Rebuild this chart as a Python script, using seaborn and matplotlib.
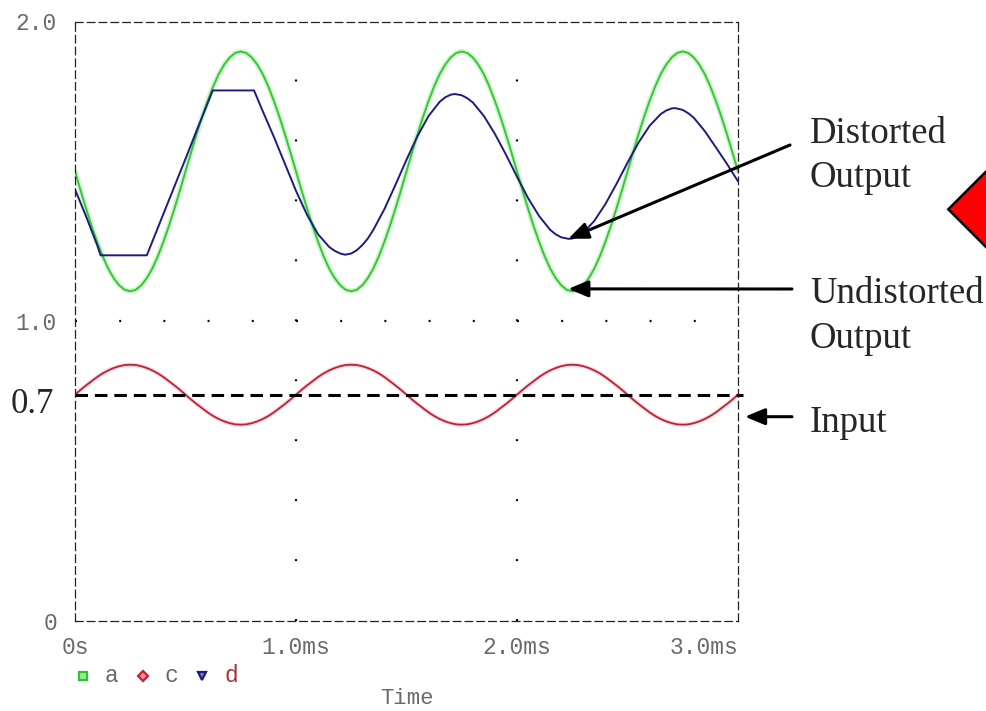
import numpy as np
import pandas as pd
import seaborn as sns
import matplotlib.pyplot as plt
import matplotlib.patheffects as pe
from matplotlib.lines import Line2D
from matplotlib.patches import Polygon

# sample times (ms) for traces a and c: 0 .. 3 ms every 0.025 ms
t = np.linspace(0, 3, 121)

# a : undistorted output (green), read per 0.025 ms
a_period = [1.500, 1.437, 1.376, 1.318, 1.265, 1.217, 1.176, 1.144, 1.120, 1.105,
            1.100, 1.105, 1.120, 1.144, 1.176, 1.217, 1.265, 1.318, 1.376, 1.437,
            1.500, 1.563, 1.624, 1.682, 1.735, 1.783, 1.824, 1.856, 1.880, 1.895,
            1.900, 1.895, 1.880, 1.856, 1.824, 1.783, 1.735, 1.682, 1.624, 1.563]
a_vals = a_period * 3 + [1.500]

# c : input (red)
c_period = [0.755, 0.771, 0.786, 0.800, 0.814, 0.826, 0.836, 0.844, 0.850, 0.854,
            0.855, 0.854, 0.850, 0.844, 0.836, 0.826, 0.814, 0.800, 0.786, 0.771,
            0.755, 0.739, 0.724, 0.710, 0.696, 0.684, 0.674, 0.666, 0.660, 0.656,
            0.655, 0.656, 0.660, 0.666, 0.674, 0.684, 0.696, 0.710, 0.724, 0.739]
c_vals = c_period * 3 + [0.755]

# d : distorted output (blue), own time points so the clipped corners stay sharp
d_t = [0.000, 0.050, 0.100, 0.116, 0.325, 0.350, 0.400, 0.450, 0.500, 0.550, 0.600, 0.623,
       0.810, 0.850, 0.900, 0.950, 1.000, 1.050, 1.100, 1.150, 1.175, 1.200, 1.222,
       1.250, 1.275, 1.300, 1.325, 1.350, 1.400, 1.450, 1.500, 1.550, 1.600, 1.650,
       1.675, 1.700, 1.720, 1.750, 1.775, 1.800, 1.850, 1.900, 1.950, 2.000, 2.050,
       2.100, 2.150, 2.175, 2.200, 2.233, 2.250, 2.275, 2.300, 2.350, 2.400, 2.450,
       2.500, 2.550, 2.600, 2.650, 2.675, 2.700, 2.716, 2.750, 2.775, 2.800, 2.850,
       2.900, 2.950, 3.000]
d_vals = [1.440, 1.350, 1.255, 1.220, 1.220, 1.266, 1.358, 1.450, 1.542, 1.635, 1.727, 1.770,
          1.770, 1.700, 1.615, 1.525, 1.435, 1.355, 1.290, 1.248, 1.235, 1.226, 1.222,
          1.226, 1.237, 1.254, 1.276, 1.305, 1.374, 1.455, 1.539, 1.618, 1.685, 1.732,
          1.747, 1.756, 1.758, 1.754, 1.744, 1.730, 1.685, 1.625, 1.556, 1.482, 1.411,
          1.351, 1.305, 1.290, 1.280, 1.275, 1.276, 1.283, 1.295, 1.335, 1.391, 1.458,
          1.529, 1.596, 1.652, 1.691, 1.703, 1.710, 1.711, 1.705, 1.694, 1.679, 1.634,
          1.580, 1.525, 1.467]

x_ticks = [0, 1, 2, 3]
x_ticklabels = ['0s', '1.0ms', '2.0ms', '3.0ms']
y_ticks = [0, 1, 2]
y_ticklabels = ['0', '1.0', '2.0']
input_level = 0.755

sns.set_style('white')
plt.rcParams['lines.scale_dashes'] = False
MONO = 'Liberation Mono'
SERIF = 'Liberation Serif'

W, H, DPI = 987, 711, 100
fig = plt.figure(figsize=(W / DPI, H / DPI), dpi=DPI)
ax = fig.add_axes([75 / W, 1 - 621 / H, 663 / W, 599.5 / H])


def fx(px):
    return px / W


def fy(py):
    return 1 - py / H


df_a = pd.DataFrame({'t': t, 'v': a_vals})
df_c = pd.DataFrame({'t': t, 'v': c_vals})
df_d = pd.DataFrame({'t': d_t, 'v': d_vals})

sns.lineplot(data=df_a, x='t', y='v', color='#34c834', lw=1.4, ax=ax,
             estimator=None, sort=False,
             path_effects=[pe.Stroke(linewidth=3.8, foreground='#d2f4d2'), pe.Normal()])
sns.lineplot(data=df_c, x='t', y='v', color='#c02038', lw=1.3, ax=ax,
             estimator=None, sort=False,
             path_effects=[pe.Stroke(linewidth=3, foreground='#f6d8dc'), pe.Normal()])
sns.lineplot(data=df_d, x='t', y='v', color='#1c1c80', lw=1.4, ax=ax,
             estimator=None, sort=False)

ax.set_xlim(0, 3)
ax.set_ylim(0, 2)
ax.set_xticks(x_ticks)
ax.set_xticklabels(x_ticklabels, family=MONO)
ax.set_yticks(y_ticks)
ax.set_yticklabels(y_ticklabels, family=MONO)
ax.get_xticklabels()[-1].set_ha('right')
ax.tick_params(axis='both', direction='out', length=6, width=0.9, color='#222',
               labelsize=16.5, labelcolor='#6a6a6a')
ax.tick_params(axis='x', pad=5)
ax.tick_params(axis='y', pad=7)
ax.set_ylabel('')
ax.set_xlabel('Time', family=MONO, fontsize=16, color='#6a6a6a')
ax.xaxis.set_label_coords(0.5, (621 - 699) / 599.5)
ax.xaxis.label.set_va('center')

for s in ax.spines.values():
    s.set_visible(True)
    s.set_linestyle((0, (5.5, 3)))
    s.set_linewidth(0.9)
    s.set_color('#222')

# dotted PSpice grid: one dot every 0.2 units
fig.canvas.draw()
bb = ax.get_window_extent()
gap_x = bb.width / 15 * 72 / DPI
gap_y = bb.height / 10 * 72 / DPI
ax.axhline(1.0, color='black', lw=1.6, ls=(0, (1.4, gap_x - 1.4)))
for xv in [1, 2]:
    ax.axvline(xv, color='black', lw=1.6, ls=(0, (1.4, gap_y - 1.4)))

# dashed 0.7 reference line for the input
ax.axhline(input_level, xmin=0, xmax=1.008, color='black', lw=2.2,
           ls=(0, (9, 5)), clip_on=False)
fig.text(fx(11), fy(413), '0.7', family=SERIF, fontsize=25, va='baseline')

# annotations
arrow = dict(arrowstyle='-|>,head_length=1.2,head_width=0.5', lw=2.2,
             color='black', shrinkA=0, shrinkB=0)
ax.annotate('', xy=(2.232, 1.275), xycoords='data',
            xytext=(790, H - 145), textcoords='figure pixels', arrowprops=arrow)
ax.annotate('', xy=(2.232, 1.108), xycoords='data',
            xytext=(792, H - 289), textcoords='figure pixels', arrowprops=arrow)
ax.annotate('', xy=(745, H - 416.7), xycoords='figure pixels',
            xytext=(792, H - 416.7), textcoords='figure pixels', arrowprops=arrow,
            annotation_clip=False)

for txt, x0, y0 in [('Distorted', 810, 143), ('Output', 810, 187),
                    ('Undistorted', 810, 303), ('Output', 810, 348),
                    ('Input', 810, 431.5)]:
    fig.text(fx(x0), fy(y0), txt, family=SERIF, fontsize=26.5, va='baseline')

# red diamond cut by the right edge
d = 60
diamond = Polygon([(fx(948.3), fy(209.3)), (fx(948.3 + d), fy(209.3 - d)),
                   (fx(948.3 + 2 * d), fy(209.3)), (fx(948.3 + d), fy(209.3 + d))],
                  closed=True, transform=fig.transFigure, facecolor='#ff0000',
                  edgecolor='black', lw=1.8)
fig.add_artist(diamond)

# trace legend below the time axis
legend_items = [('a', 's', '#9be89b', '#2fc42f', '#6a6a6a', 82.7, 111.7),
                ('c', 'D', '#f09090', '#c02038', '#6a6a6a', 143.3, 171.7),
                ('d', 'v', '#8080d0', '#1c1c80', '#a83232', 201.7, 231.7)]
for lab, mk, fc, ec, tc, mx, lx in legend_items:
    fig.add_artist(Line2D([fx(mx)], [fy(675.7)], transform=fig.transFigure,
                          marker=mk, markersize=5.5, markerfacecolor=fc,
                          markeredgecolor=ec, markeredgewidth=1.6, ls='none'))
    fig.text(fx(lx), fy(675.7), lab, family=MONO, fontsize=16.5, color=tc,
             ha='center', va='center')

fig.savefig('out.png', dpi=DPI)
